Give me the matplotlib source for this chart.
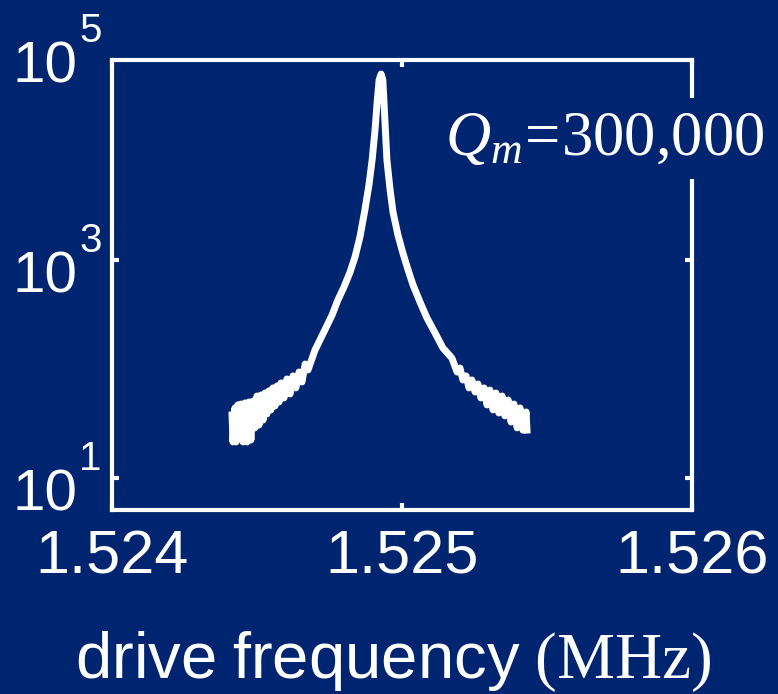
import numpy as np
import matplotlib
matplotlib.use('Agg')
import matplotlib.pyplot as plt
import matplotlib.transforms as mtransforms

# colours
bg = '#002570'
fg = 'white'

plt.rcParams['mathtext.fontset'] = 'custom'
plt.rcParams['mathtext.rm'] = 'Liberation Serif'
plt.rcParams['mathtext.it'] = 'Liberation Serif:italic'
plt.rcParams['mathtext.sf'] = 'Liberation Sans'
plt.rcParams['font.family'] = ['Liberation Sans', 'DejaVu Sans']

# response: drive frequency (MHz) and amplitude
# (the tails are noisy, so they zig-zag between the upper and lower edge)
freq = [1.524414, 1.524417, 1.524424, 1.524428, 1.524434, 1.524438, 1.524445,
        1.524452, 1.524459, 1.524466, 1.524472, 1.524479, 1.524486, 1.524493,
        1.524500, 1.524507, 1.524514, 1.524521, 1.524528, 1.524534, 1.524541,
        1.524548, 1.524555, 1.524562, 1.524569, 1.524576, 1.524583, 1.524593,
        1.524603, 1.524614, 1.524624, 1.524634, 1.524645, 1.524655, 1.524666,
        1.524676,
        1.524700, 1.524734, 1.524759, 1.524779, 1.524800, 1.524821, 1.524838,
        1.524855, 1.524872, 1.524886, 1.524897, 1.524907, 1.524914, 1.524921,
        1.524928, 1.524934,
        1.524941, 1.524948, 1.524959, 1.524969, 1.524986, 1.525003, 1.525021,
        1.525038, 1.525062, 1.525086, 1.525114, 1.525141, 1.525172,
        1.525190, 1.525200, 1.525210, 1.525221, 1.525231, 1.525241, 1.525252,
        1.525262, 1.525272, 1.525283, 1.525293, 1.525303, 1.525314, 1.525324,
        1.525334, 1.525345, 1.525355, 1.525366, 1.525376, 1.525386, 1.525397,
        1.525407, 1.525417, 1.525428, 1.525431]
amp = [37.8, 21.4, 43.9, 21.4, 46.8, 27.5, 47.7,
       21.4, 48.8, 21.4, 49.8, 22.3, 50.8, 28.8,
       56.5, 30.6, 57.7, 34.0, 60.2, 38.6, 62.9,
       42.1, 67.0, 45.8, 69.8, 49.8, 74.5, 54.2,
       80.9, 59.0, 86.3, 67.0, 93.8, 76.0, 111,
       98.0,
       149, 228, 313, 430, 565, 776, 1066,
       1626, 2877, 4875, 8260, 15600, 27540, 44770,
       50800, 44770,
       19230, 8260, 4385, 2754, 1694, 1159, 809,
       590, 412, 294, 214, 156, 126,
       93.8, 102, 79.3, 86.3, 67.0, 79.3, 61.5,
       72.8, 54.2, 67.0, 46.8, 64.1, 42.1, 60.2,
       39.5, 56.5, 37.1, 51.9, 32.6, 47.7, 28.8,
       43.9, 27.5, 40.3, 27.5]

xticks = [1.524, 1.525, 1.526]
xticklabels = ['1.524', '1.525', '1.526']
ydecades = [10, 1000, 10**4.927]   # last one sits just above the box
ysups = ['1', '3', '5']
q_text = r'$Q_m\!=\!\mathrm{300{,}000}$'

fig = plt.figure(figsize=(7.78, 6.94), dpi=100, facecolor=bg)
ax = fig.add_axes([112/778, 1 - 510/694, 580/778, 450/694])
ax.set_facecolor(bg)

ax.plot(freq, amp, color=fg, lw=5)

ax.set_yscale('log')
ax.set_xlim(1.524, 1.526)
ax.set_ylim(10**0.706, 10**4.835)
ax.set_xticks(xticks)
ax.set_xticklabels(xticklabels)
ax.set_yticks(ydecades[:2])
ax.set_yticklabels([])
ax.yaxis.set_minor_locator(matplotlib.ticker.NullLocator())

for s in ax.spines.values():
    s.set_color(fg)
    s.set_linewidth(3)
ax.tick_params(direction='in', length=5, width=3, color=fg, top=True, right=True)
ax.tick_params(axis='x', labelsize=44, labelcolor=fg, pad=14)

# y labels written as "10" with a raised exponent
trans = mtransforms.blended_transform_factory(ax.transAxes, ax.transData)
for val, sup in zip(ydecades, ysups):
    base_off = mtransforms.ScaledTranslation(-0.35, -0.33, fig.dpi_scale_trans)
    sup_off = mtransforms.ScaledTranslation(-0.33, 0.08, fig.dpi_scale_trans)
    ax.text(0, val, '10', transform=trans + base_off, ha='right', va='baseline',
            fontsize=42, color=fg, clip_on=False)
    ax.text(0, val, sup, transform=trans + sup_off, ha='left', va='baseline',
            fontsize=29, color=fg, clip_on=False)

ax.set_xlabel(r'$\mathsf{drive\ frequency\ }\mathrm{(MHz)}$', fontsize=47,
              color=fg)
ax.xaxis.set_label_coords(0.485, -0.265)

fig.text(445/778, 1 - 155/694, q_text, fontsize=45, color=fg, ha='left',
         va='baseline', bbox=dict(facecolor=bg, edgecolor='none', pad=8))

fig.savefig('out.png', dpi=100, facecolor=bg)
